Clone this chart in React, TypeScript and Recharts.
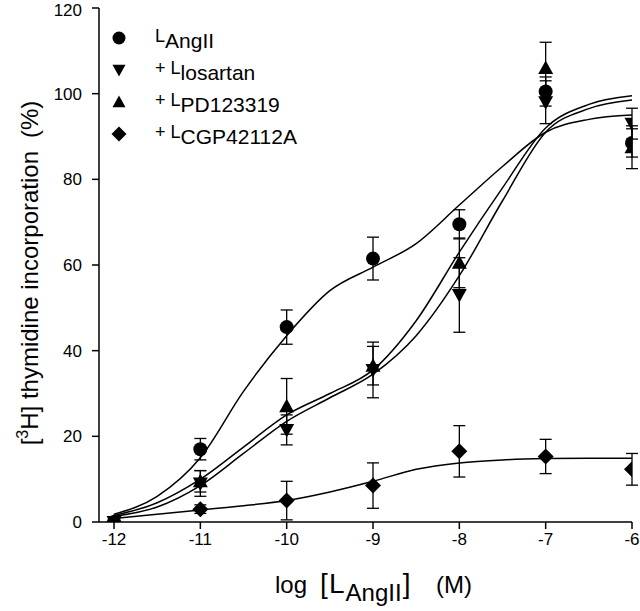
import { ComposedChart, Line, Scatter, ErrorBar, XAxis, YAxis, Legend } from 'recharts'

const FONT = '"Liberation Sans", Arial, Helvetica, sans-serif'

// doses (log M) and tick values
const DOSES = [-12, -11, -10, -9, -8, -7, -6]
const X_TICKS = [-12, -11, -10, -9, -8, -7, -6]
const Y_TICKS = [0, 20, 40, 60, 80, 100, 120]

// measured means and SEM (%)
const ANG_MEAN = [0, 17, 45.5, 61.5, 69.5, 100.5, 88.5]
const ANG_SEM = [0, 2.5, 4, 5, 3.4, 3.4, 3.3]
const LOS_MEAN = [0, 9, 21.5, 35.5, 53, 98, 93]
const LOS_SEM = [0, 3, 3.5, 6.5, 8.7, 5, 3.6]
const PD_MEAN = [0, 9.5, 27, 36.5, 60.5, 106, 87.5]
const PD_SEM = [0, 2.5, 6.5, 4.5, 5.8, 6, 5]
const CGP_MEAN = [0, 3, 5, 8.5, 16.5, 15.3, 12.3]
const CGP_SEM = [0, 1, 4.5, 5.3, 6, 4, 3.7]

// fitted curves
const CURVE_X = [-12, -11.5, -11, -10.5, -10, -9.5, -9, -8.5, -8, -7.5, -7, -6.5, -6]
const ANG_FIT = [1.8, 6, 15, 30.5, 43.5, 54, 59.5, 65, 74, 83, 91, 94, 95]
const LOS_FIT = [1.3, 3.5, 8.5, 16, 23.5, 29, 34.5, 43.5, 57.5, 75, 91, 96.5, 98.5]
const PD_FIT = [1.5, 4.5, 10, 17.5, 25, 30, 35.5, 47, 63, 78, 92, 97.5, 99.5]
const CGP_FIT = [0.8, 1.8, 2.8, 3.8, 5, 7, 9.5, 12.3, 13.8, 14.5, 14.8, 14.9, 14.9]

const LEGEND_PREFIX = ['', '+ ', '+ ', '+ ']
const LEGEND_SUB = ['AngII', 'losartan', 'PD123319', 'CGP42112A']
const LEGEND_KIND = ['circle', 'down', 'up', 'diamond']

const toPoints = (means: number[], sems: number[]) =>
  DOSES.map((x, i) => ({ x, y: means[i], err: sems[i] }))
const toCurve = (vals: number[]) => CURVE_X.map((x, i) => ({ x, y: vals[i] }))

function Marker({ kind, cx, cy, s }: { kind: string; cx: number; cy: number; s: number }) {
  const h = s / 2
  if (kind === 'circle') return <circle cx={cx} cy={cy} r={h} fill="#000" />
  if (kind === 'down')
    return <path d={`M${cx - h},${cy - h * 0.8}L${cx + h},${cy - h * 0.8}L${cx},${cy + h}Z`} fill="#000" />
  if (kind === 'up')
    return <path d={`M${cx - h},${cy + h * 0.8}L${cx + h},${cy + h * 0.8}L${cx},${cy - h}Z`} fill="#000" />
  return <path d={`M${cx},${cy - h}L${cx + h},${cy}L${cx},${cy + h}L${cx - h},${cy}Z`} fill="#000" />
}

const shapeOf = (kind: string, s: number) => (p: any) => <Marker kind={kind} cx={p.cx} cy={p.cy} s={s} />

const LegendBox = () => (
  <svg width={220} height={135} style={{ display: 'block' }}>
    {LEGEND_SUB.map((sub, i) => {
      const cy = 23 + i * 32
      return (
        <g key={sub}>
          <Marker kind={LEGEND_KIND[i]} cx={19} cy={cy} s={LEGEND_KIND[i] === 'diamond' ? 15 : 13} />
          <text x={55} y={cy + 4} fontFamily={FONT} fontSize={18} fill="#000" style={{ whiteSpace: 'pre' }}>
            {LEGEND_PREFIX[i]}L
            <tspan fontSize={21} dy={6}>{sub}</tspan>
          </text>
        </g>
      )
    })}
  </svg>
)

const XTitle = () => (
  <text y={593} fontFamily={FONT} fill="#000">
    <tspan x={275} fontSize={24}>log</tspan>
    <tspan x={320} fontSize={28}>[</tspan>
    <tspan x={329} fontSize={28}>L</tspan>
    <tspan fontSize={24} dy={8} dx={1}>AngII</tspan>
    <tspan fontSize={28} dy={-8} dx={1}>]</tspan>
    <tspan x={436} fontSize={24}>(M)</tspan>
  </text>
)

const YTitle = () => (
  <text transform="rotate(-90 38 273)" x={38} y={273} textAnchor="middle" fontFamily={FONT} fontSize={24} fill="#000">
    [<tspan fontSize={16} dy={-10}>3</tspan>
    <tspan dy={10}>H] thymidine incorporation</tspan>
    <tspan dx={13}>(%)</tspan>
  </text>
)

const tickStyle = { fontSize: 17, fill: '#000', fontFamily: FONT }
const lineStyle = { stroke: '#000', strokeWidth: 1.5 }

export default function App() {
  return (
    <div style={{ position: 'absolute', left: 0, top: 0, width: 640, height: 611, background: '#fff' }}>
      <ComposedChart width={640} height={611} margin={{ top: 8, right: 8, bottom: 0, left: 0 }}>
        <XAxis
          type="number"
          dataKey="x"
          domain={[-12.174, -6]}
          ticks={X_TICKS}
          allowDataOverflow
          height={89}
          tickSize={7}
          tickMargin={4}
          axisLine={lineStyle}
          tickLine={lineStyle}
          tick={tickStyle}
          label={<XTitle />}
        />
        <YAxis
          type="number"
          dataKey="y"
          domain={[0, 120]}
          ticks={Y_TICKS}
          allowDataOverflow
          width={99}
          tickSize={7}
          tickMargin={10}
          axisLine={lineStyle}
          tickLine={lineStyle}
          tick={tickStyle}
          label={<YTitle />}
        />
        <Legend
          layout="vertical"
          align="center"
          verticalAlign="middle"
          wrapperStyle={{ left: 100, top: 15, width: 220, height: 135 }}
          content={<LegendBox />}
        />
        <Line data={toCurve(ANG_FIT)} dataKey="y" type="monotone" stroke="#000" strokeWidth={1.5} dot={false} activeDot={false} isAnimationActive={false} />
        <Line data={toCurve(LOS_FIT)} dataKey="y" type="monotone" stroke="#000" strokeWidth={1.5} dot={false} activeDot={false} isAnimationActive={false} />
        <Line data={toCurve(PD_FIT)} dataKey="y" type="monotone" stroke="#000" strokeWidth={1.5} dot={false} activeDot={false} isAnimationActive={false} />
        <Line data={toCurve(CGP_FIT)} dataKey="y" type="monotone" stroke="#000" strokeWidth={1.5} dot={false} activeDot={false} isAnimationActive={false} />
        <Scatter name="CGP42112A" data={toPoints(CGP_MEAN, CGP_SEM)} dataKey="y" shape={shapeOf('diamond', 16)} isAnimationActive={false}>
          <ErrorBar dataKey="err" direction="y" width={6} stroke="#000" strokeWidth={1.3} />
        </Scatter>
        <Scatter name="PD123319" data={toPoints(PD_MEAN, PD_SEM)} dataKey="y" shape={shapeOf('up', 15)} isAnimationActive={false}>
          <ErrorBar dataKey="err" direction="y" width={6} stroke="#000" strokeWidth={1.3} />
        </Scatter>
        <Scatter name="losartan" data={toPoints(LOS_MEAN, LOS_SEM)} dataKey="y" shape={shapeOf('down', 15)} isAnimationActive={false}>
          <ErrorBar dataKey="err" direction="y" width={6} stroke="#000" strokeWidth={1.3} />
        </Scatter>
        <Scatter name="AngII" data={toPoints(ANG_MEAN, ANG_SEM)} dataKey="y" shape={shapeOf('circle', 14)} isAnimationActive={false}>
          <ErrorBar dataKey="err" direction="y" width={6} stroke="#000" strokeWidth={1.3} />
        </Scatter>
      </ComposedChart>
    </div>
  )
}
